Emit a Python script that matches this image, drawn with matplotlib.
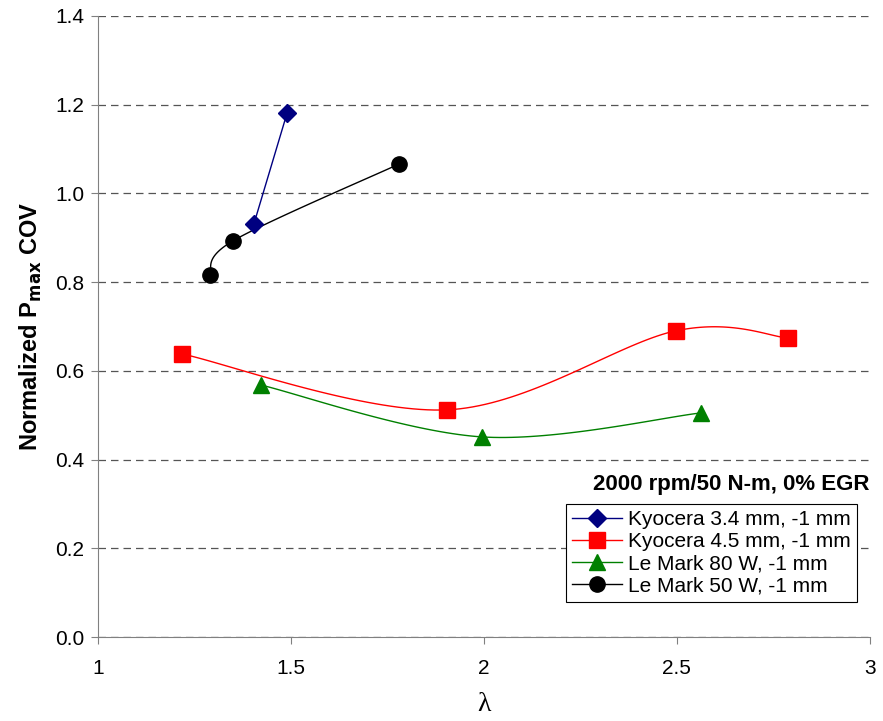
import matplotlib
matplotlib.use("Agg")
import matplotlib.pyplot as plt
import numpy as np

plt.rcParams["font.family"] = ["Liberation Sans", "DejaVu Sans"]

# data
kyo34_x = [1.404, 1.49]
kyo34_y = [0.931, 1.181]
kyo45_x = [1.218, 1.905, 2.497, 2.788]
kyo45_y = [0.638, 0.512, 0.690, 0.674]
lm80_x = [1.422, 1.995, 2.562]
lm80_y = [0.568, 0.451, 0.505]
lm50_x = [1.29, 1.35, 1.78]
lm50_y = [0.816, 0.893, 1.066]

labels = ["Kyocera 3.4 mm, -1 mm", "Kyocera 4.5 mm, -1 mm",
          "Le Mark 80 W, -1 mm", "Le Mark 50 W, -1 mm"]


def smooth(xs, ys, n=40):
    # Excel-like smoothed line: cubic Bezier with Catmull-Rom style control points
    p = np.column_stack([xs, ys]).astype(float)
    if len(p) < 3:
        return p[:, 0], p[:, 1]
    out = [p[0]]
    for i in range(len(p) - 1):
        p0 = p[i - 1] if i > 0 else p[i]
        p3 = p[i + 2] if i + 2 < len(p) else p[i + 1]
        c1 = p[i] + (p[i + 1] - p0) / 6
        c2 = p[i + 1] - (p3 - p[i]) / 6
        t = np.linspace(0, 1, n)[1:, None]
        seg = ((1 - t) ** 3) * p[i] + 3 * ((1 - t) ** 2) * t * c1 + 3 * (1 - t) * t ** 2 * c2 + t ** 3 * p[i + 1]
        out.extend(seg)
    out = np.array(out)
    return out[:, 0], out[:, 1]


fig = plt.figure(figsize=(8.83, 7.21), dpi=100)
ax = fig.add_axes([0.111, 0.1165, 0.874, 0.8615])

series = [
    (kyo34_x, kyo34_y, "#000080", "D", 9),
    (kyo45_x, kyo45_y, "#FF0000", "s", 11),
    (lm80_x, lm80_y, "#008000", "^", 11),
    (lm50_x, lm50_y, "#000000", "o", 11),
]
for (xs, ys, c, m, ms), lab in zip(series, labels):
    sx, sy = smooth(xs, ys)
    ax.plot(sx, sy, color=c, lw=1, zorder=3)
    ax.plot(xs, ys, ls="none", marker=m, ms=ms, color=c, zorder=4)
    ax.plot([], [], color=c, lw=1, marker=m, ms=ms, label=lab)

ax.set_xlim(1, 3)
ax.set_ylim(0, 1.4)
ax.set_xticks([1, 1.5, 2, 2.5, 3])
ax.set_xticklabels(["1", "1.5", "2", "2.5", "3"])
ax.set_yticks(np.arange(0, 1.41, 0.2))
ax.set_yticklabels([f"{v:.1f}" for v in np.arange(0, 1.41, 0.2)])
ax.tick_params(labelsize=15, direction="out", length=5, color="#808080")
ax.tick_params(axis="x", pad=11)
ax.tick_params(axis="y", pad=5)
ax.grid(axis="y", color="#555555", ls=(0, (6, 4)), lw=0.9)
ax.set_axisbelow(True)
for s in ["top", "right"]:
    ax.spines[s].set_visible(False)
for s in ["left", "bottom"]:
    ax.spines[s].set_color("#808080")

ax.set_ylabel(r"Normalized P$_{\mathbf{max}}$ COV", fontsize=17, fontweight="bold", labelpad=8)
ax.set_xlabel("λ", fontsize=20, family=["Liberation Serif", "DejaVu Serif"], labelpad=10)

ax.text(1.0, 0.245, "2000 rpm/50 N-m, 0% EGR", transform=ax.transAxes,
        ha="right", va="center", fontsize=16, fontweight="bold")

leg = ax.legend(loc="lower right", bbox_to_anchor=(0.997, 0.040), fontsize=15,
                frameon=True, fancybox=False, edgecolor="black", framealpha=1,
                handlelength=2.4, handletextpad=0.3, borderpad=0.3, labelspacing=0.15)
leg.get_frame().set_linewidth(0.8)

fig.savefig("out.png", dpi=100)
plt.close()
